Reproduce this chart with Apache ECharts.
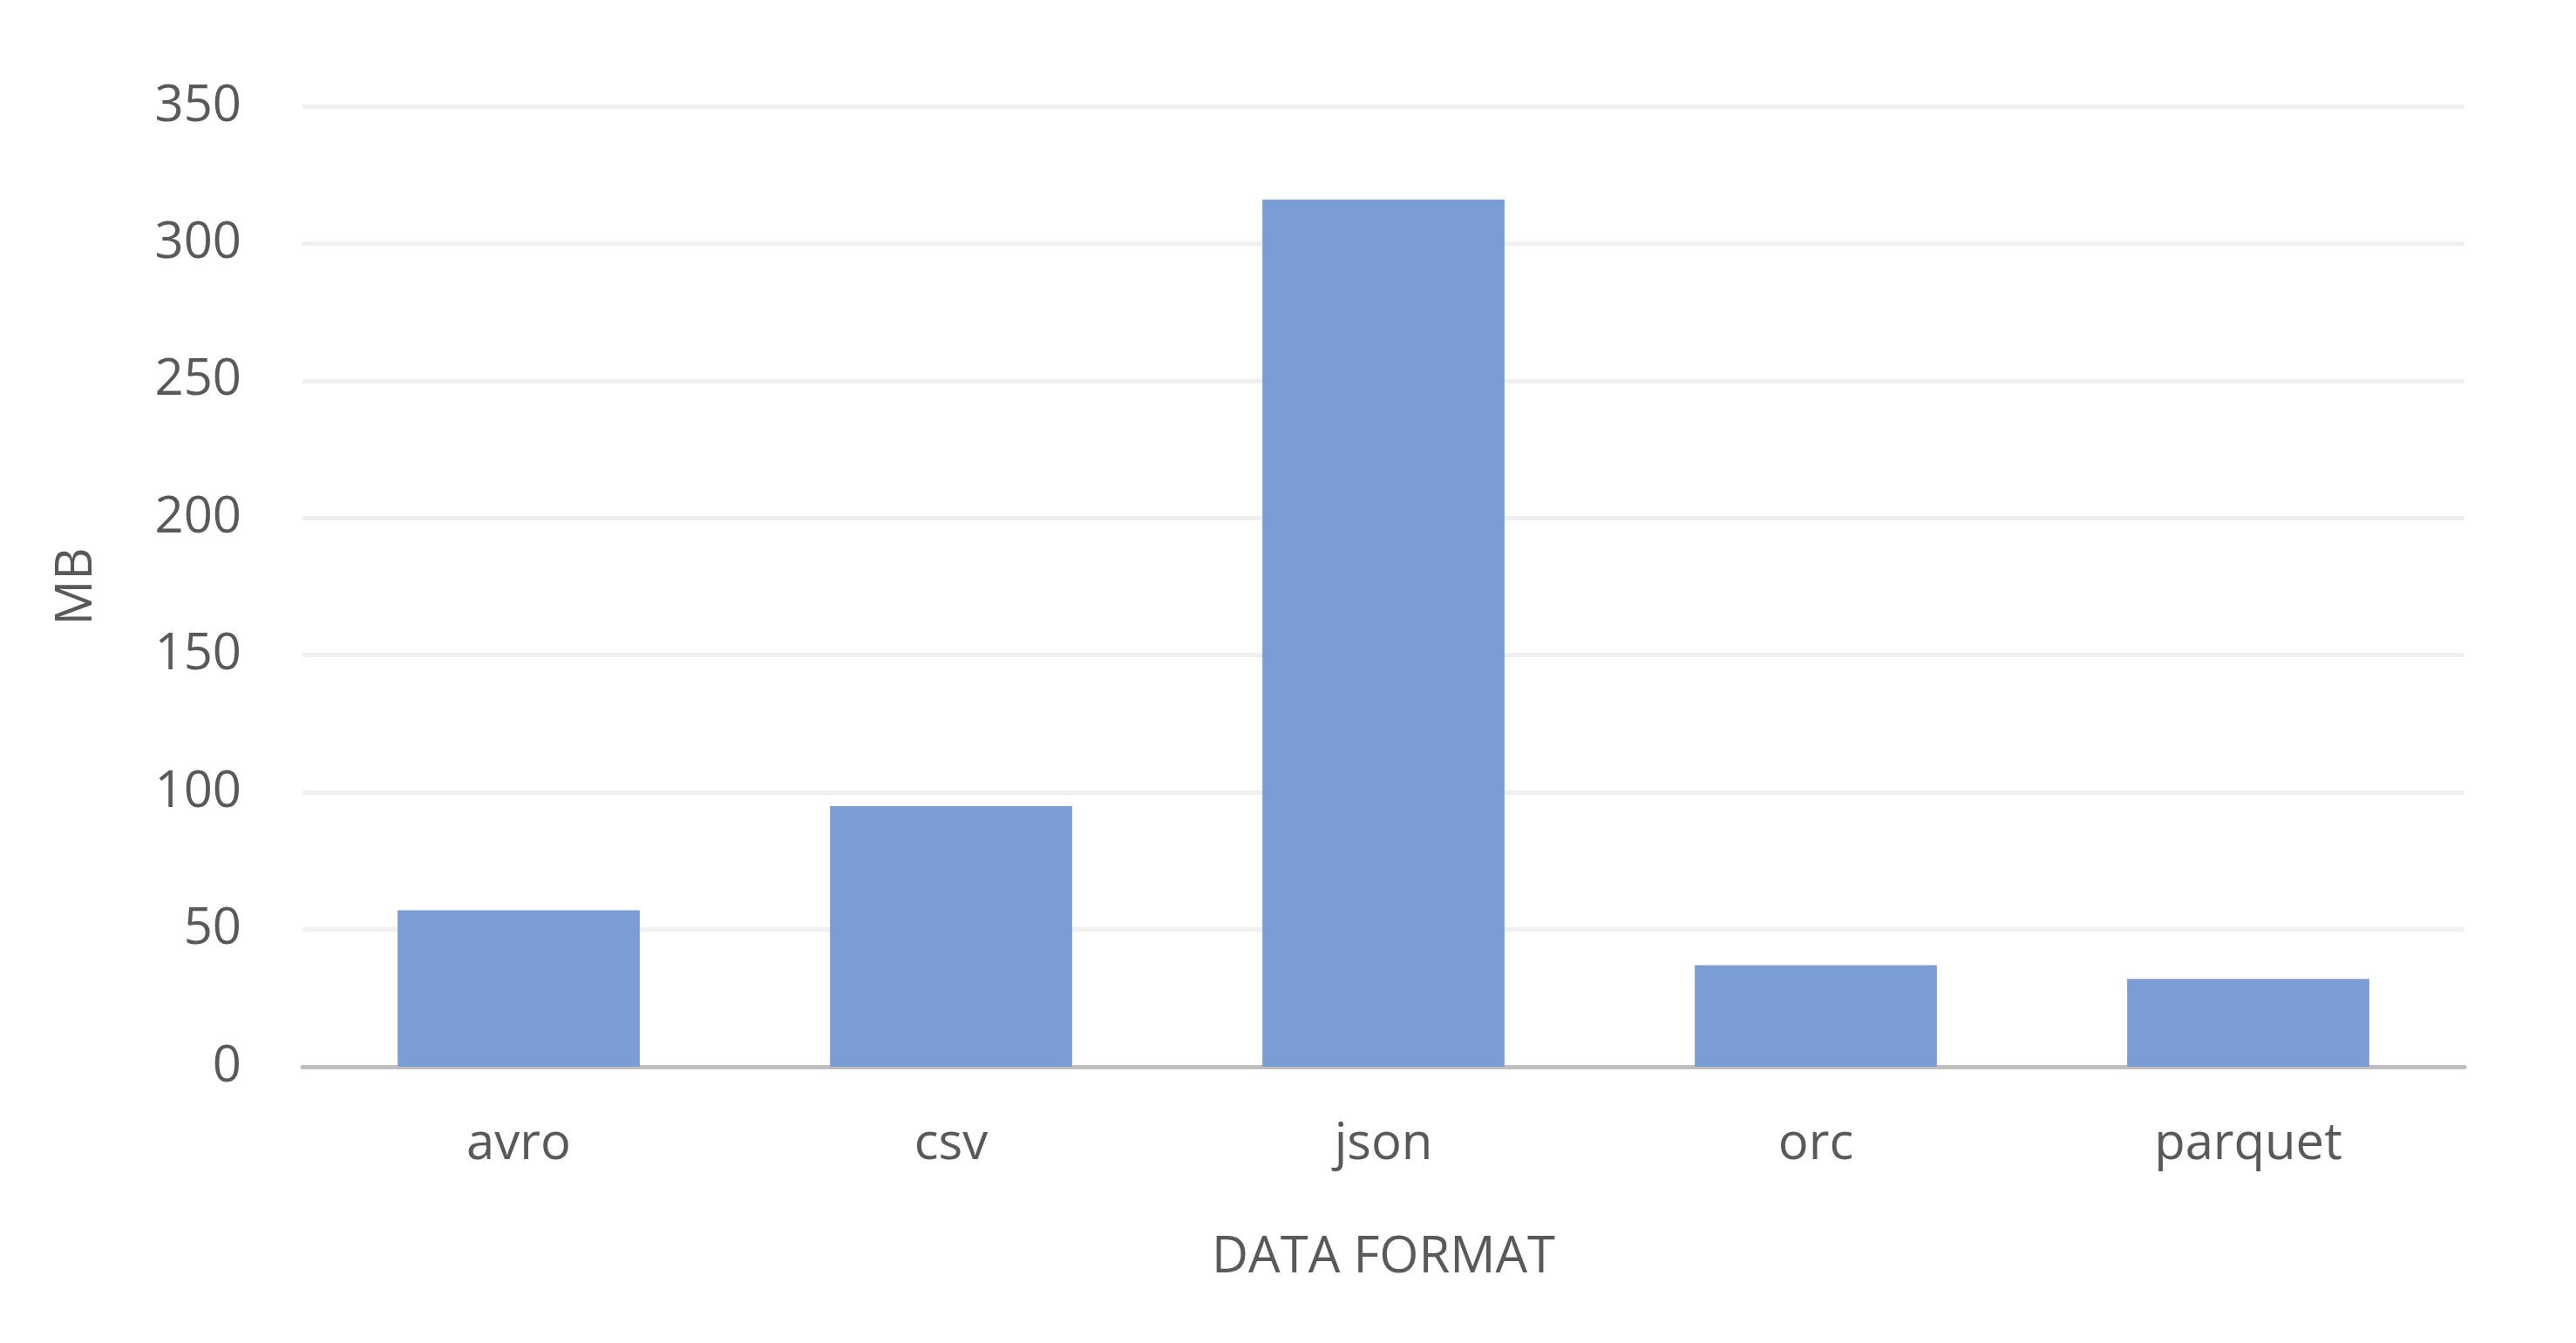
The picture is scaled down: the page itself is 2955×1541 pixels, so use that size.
<!DOCTYPE html>
<html style="height: 100%">
<head><meta charset="utf-8"></head>
<body style="height: 100%; margin: 0; background: #fff">
<div id="container" style="height: 100%"></div>
<script src="https://cdn.jsdelivr.net/npm/echarts@6/dist/echarts.min.js"></script>
<script>
var formats = ['avro', 'csv', 'json', 'orc', 'parquet'];
var sizesMB = [57, 95, 316, 37, 32];

var chart = echarts.init(document.getElementById('container'));
chart.setOption({
    animation: false,
    textStyle: { fontFamily: 'Open Sans' },
    grid: { left: 347, right: 128, top: 122, bottom: 317 },
    xAxis: {
        type: 'category',
        data: formats,
        name: 'DATA FORMAT',
        nameLocation: 'middle',
        nameGap: 190,
        nameTextStyle: { fontSize: 58, color: '#595959' },
        axisTick: { show: false },
        axisLine: { lineStyle: { color: '#bfbfbf', width: 5 } },
        axisLabel: { fontSize: 58, color: '#595959', margin: 60 }
    },
    yAxis: {
        type: 'value',
        min: 0, max: 350, interval: 50,
        name: 'MB',
        nameLocation: 'middle',
        nameGap: 230,
        nameTextStyle: { fontSize: 58, color: '#595959' },
        axisLabel: { fontSize: 58, color: '#595959', margin: 70 },
        splitLine: { lineStyle: { color: '#efefef', width: 5 } }
    },
    series: [{
        type: 'bar',
        data: sizesMB,
        barWidth: '56%',
        itemStyle: { color: '#7b9dd5' }
    }]
});
</script>
</body>
</html>
